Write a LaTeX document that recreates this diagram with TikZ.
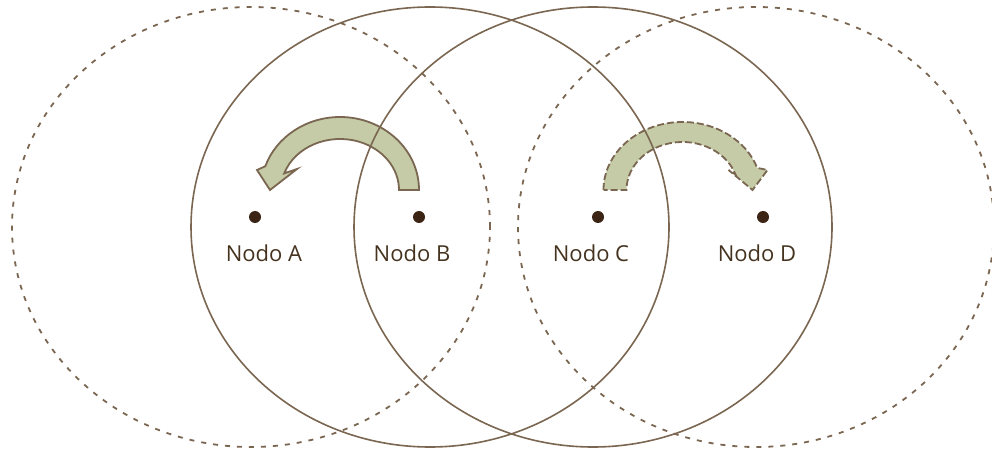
\documentclass[tikz,border=0pt]{standalone}
\usepackage{fontspec}
\setmainfont{Open Sans}
\usepackage{tikz}
\usetikzlibrary{positioning, calc}
\definecolor{linebrown}{HTML}{7A6651}
\definecolor{dotbrown}{HTML}{3B2414}
\definecolor{textbrown}{HTML}{45331F}
\definecolor{sage}{HTML}{C4CBA6}

\begin{document}
\begin{tikzpicture}[
  x=1pt, y=1pt,
  node distance=18pt and 18pt,
  zone/.style={draw=linebrown, line width=1.8pt, dash pattern=on 5pt off 7pt},
  reach/.style={draw=linebrown, line width=1.6pt},
  dot/.style={circle, fill=dotbrown, inner sep=0pt, minimum size=12pt},
  lbl/.style={font=\fontsize{22}{26}\selectfont, text=textbrown},
  hop/.style={draw=linebrown, fill=sage, line width=1.8pt, line join=miter},
  hopdash/.style={hop, dash pattern=on 7pt off 3pt}
]
  \useasboundingbox (0,0) rectangle (992,450);

  \node[dot] (a) at (255,233) {};
  \node[dot] (b) at (419,233) {};
  \node[dot] (c) at (598,233) {};
  \node[dot] (d) at (763,233) {};

  \node[lbl, below=of a, xshift=9pt]  (la) {Nodo A};
  \node[lbl, below=of b, xshift=-7pt] (lb) {Nodo B};
  \node[lbl, below=of c, xshift=-7pt] (lc) {Nodo C};
  \node[lbl, below=of d, xshift=-6pt] (ld) {Nodo D};

  % hop arrows, B to A and C to D
  \coordinate (ab) at ($(a)!0.5!(b)+(3,27)$);
  \coordinate (cd) at ($(c)!0.5!(d)+(2,27)$);

  \draw[hop] ($(ab)+(79,0)$) arc[start angle=0, end angle=161, x radius=79pt, y radius=73pt]
    -- ($(ab)+(-83,20)$) -- ($(ab)+(-70,0)$) -- ($(ab)+(-43,21)$)
    -- ($(ab)+(161:59pt and 51pt)$) arc[start angle=161, end angle=0, x radius=59pt, y radius=51pt]
    -- cycle;
  \draw[hopdash] ($(cd)+(-79,0)$) arc[start angle=180, end angle=19, x radius=79pt, y radius=68pt]
    -- ($(cd)+(85,20)$) -- ($(cd)+(70,0)$) -- ($(cd)+(46,20)$)
    -- ($(cd)+(19:56pt and 48pt)$) arc[start angle=19, end angle=180, x radius=56pt, y radius=48pt]
    -- cycle;

  % ranges
  \draw[zone]  (251,223) ellipse [x radius=239pt, y radius=220pt];
  \draw[reach] (430,223) ellipse [x radius=239pt, y radius=220pt];
  \draw[reach] (593,223) ellipse [x radius=239pt, y radius=220pt];
  \draw[zone]  (756,223) ellipse [x radius=238pt, y radius=220pt];
\end{tikzpicture}
\end{document}
